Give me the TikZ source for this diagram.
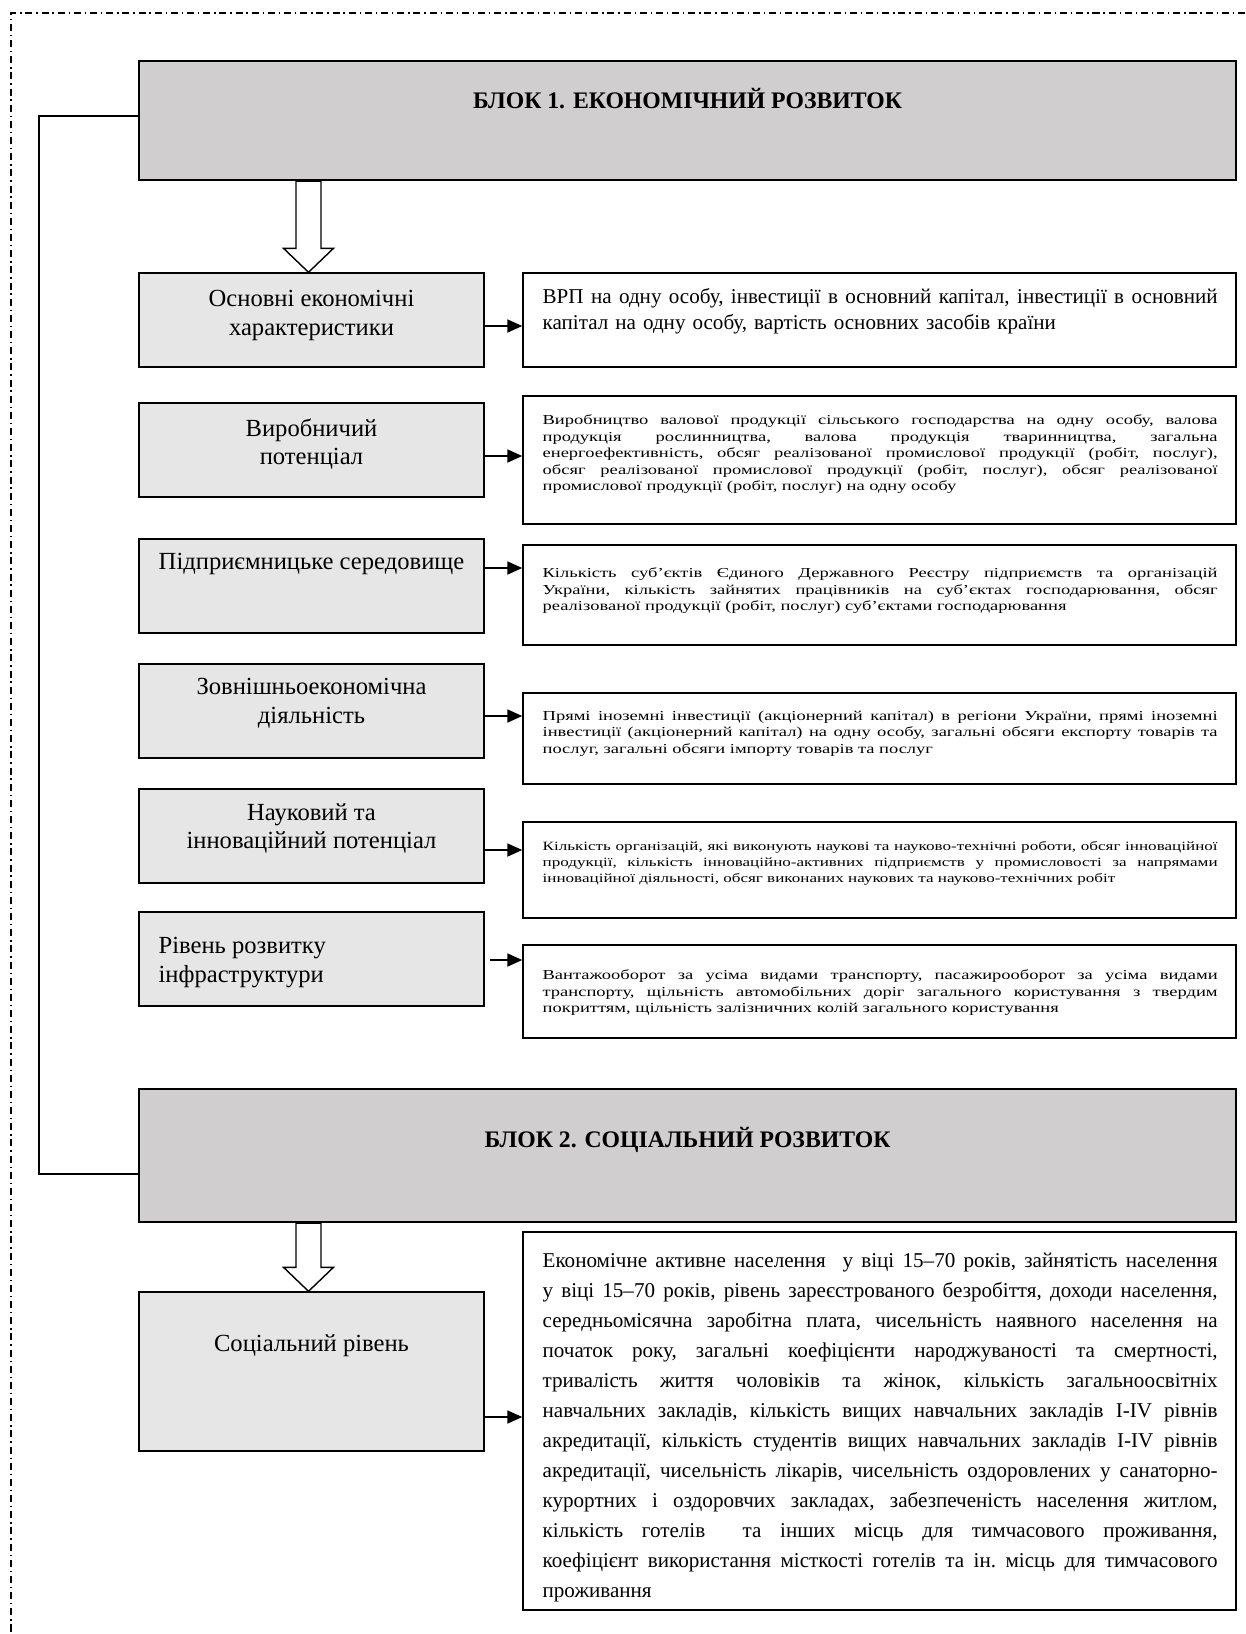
\documentclass[tikz,border=0pt]{standalone}
\usepackage{fontspec}
\setmainfont{Liberation Serif}
\newfontfamily\widefont[FakeStretch=1.35]{Liberation Serif}
\usetikzlibrary{calc,positioning,arrows.meta}
\definecolor{blockgray}{HTML}{D0CECE}
\definecolor{boxgray}{HTML}{E7E6E6}
% one justified line of a right-hand box
\newcommand{\jline}[1]{\makebox[13.5cm][s]{\frenchspacing\spaceskip=\fontdimen2\font plus 1fil\relax#1}}
\tikzset{>={Triangle[length=3mm,width=2.6mm]}}

\begin{document}
\begin{tikzpicture}[x=0.2mm,y=-0.2mm,
  block/.style={draw,line width=1.2pt,fill=blockgray,minimum width=21.94cm,inner sep=0pt},
  lbox/.style={draw,line width=0.8pt,fill=boxgray,minimum width=6.9cm,minimum height=1.88cm,inner sep=0pt},
  rbox/.style={draw,line width=0.8pt,fill=white,minimum width=14.26cm,inner sep=0pt},
  blocktitle/.style={font=\fontsize{13.5}{16}\selectfont\bfseries,inner sep=0pt},
  ltext/.style={font=\fontsize{14}{16}\selectfont,align=center,inner sep=0pt,anchor=north},
  rtext/.style={text width=13.5cm,align=left,inner sep=0pt,anchor=north west},
  small/.style={font=\widefont\fontsize{7.8}{9.45}\selectfont},
  link/.style={->,line width=1pt},
  hollow/.style={draw,line width=0.8pt,fill=white,line join=miter},
  dashframe/.style={line width=0.8pt,dash pattern=on 4pt off 2.2pt on 0.8pt off 2.2pt}]
  \useasboundingbox (0,0) rectangle (1245,1634);
  \draw[dashframe] (1245,13) -- (11,13) -- (11,1634);

  % block 1
  \node[block,minimum height=2.38cm] (b1) at (687.5,120.5) {};
  \node[blocktitle] (b1t) at (687.5,99) {БЛОК 1. ЕКОНОМІЧНИЙ РОЗВИТОК};

  % left column
  \node[lbox] (l1) at (311.5,320) {};
  \node[lbox] (l2) at (311.5,450) {};
  \node[lbox] (l3) at (311.5,586) {};
  \node[lbox] (l4) at (311.5,711) {};
  \node[lbox] (l5) at (311.5,836) {};
  \node[lbox] (l6) at (311.5,959) {};
  \node[ltext] (l1t) at ($(l1.north)+(0,18)$) {Основні економічні\\характеристики};
  \node[ltext] (l2t) at ($(l2.north)+(0,16)$) {Виробничий\\потенціал};
  \node[ltext] (l3t) at ($(l3.north)+(0,15)$) {Підприємницьке середовище};
  \node[ltext] (l4t) at ($(l4.north)+(0,15)$) {Зовнішньоекономічна\\діяльність};
  \node[ltext] (l5t) at ($(l5.north)+(0,15)$) {Науковий та\\інноваційний потенціал};
  \node[ltext,anchor=north west,align=left] (l6t) at ($(l6.north west)+(20,26)$) {Рівень розвитку\\інфраструктури};

  % right column
  \node[rbox,minimum height=1.88cm] (r1) at (879.5,320) {};
  \node[rbox,minimum height=2.56cm] (r2) at (879.5,460) {};
  \node[rbox,minimum height=2.0cm] (r3) at (879.5,595) {};
  \node[rbox,minimum height=1.82cm] (r4) at (879.5,738.5) {};
  \node[rbox,minimum height=1.92cm] (r5) at (879.5,870) {};
  \node[rbox,minimum height=1.86cm] (r6) at (879.5,991.5) {};

  \node[rtext,font=\fontsize{12}{14.5}\selectfont] (r1t) at ($(r1.north west)+(20,16)$)
    {\jline{ВРП на одну особу, інвестиції в основний капітал, інвестиції в основний}\\
     капітал на одну особу, вартість основних засобів країни};
  \node[rtext,small] (r2t) at ($(r2.north west)+(20,19)$)
    {\jline{Виробництво валової продукції сільського господарства на одну особу, валова}\\
     \jline{продукція рослинництва, валова продукція тваринництва, загальна}\\
     \jline{енергоефективність, обсяг реалізованої промислової продукції (робіт, послуг),}\\
     \jline{обсяг реалізованої промислової продукції (робіт, послуг), обсяг реалізованої}\\
     промислової продукції (робіт, послуг) на одну особу};
  \node[rtext,small] (r3t) at ($(r3.north west)+(20,23)$)
    {\jline{Кількість суб’єктів Єдиного Державного Реєстру підприємств та організацій}\\
     \jline{України, кількість зайнятих працівників на суб’єктах господарювання, обсяг}\\
     реалізованої продукції (робіт, послуг) суб’єктами господарювання};
  \node[rtext,small] (r4t) at ($(r4.north west)+(20,18)$)
    {\jline{Прямі іноземні інвестиції (акціонерний капітал) в регіони України, прямі іноземні}\\
     \jline{інвестиції (акціонерний капітал) на одну особу, загальні обсяги експорту товарів та}\\
     послуг, загальні обсяги імпорту товарів та послуг};
  \node[rtext,font=\widefont\fontsize{7.2}{9}\selectfont] (r5t) at ($(r5.north west)+(20,20)$)
    {\jline{Кількість організацій, які виконують наукові та науково-технічні роботи, обсяг інноваційної}\\
     \jline{продукції, кількість інноваційно-активних підприємств у промисловості за напрямами}\\
     інноваційної діяльності, обсяг виконаних наукових та науково-технічних робіт};
  \node[rtext,small] (r6t) at ($(r6.north west)+(20,25)$)
    {\jline{Вантажооборот за усіма видами транспорту, пасажирооборот за усіма видами}\\
     \jline{транспорту, щільність автомобільних доріг загального користування з твердим}\\
     покриттям, щільність залізничних колій загального користування};

  % connectors, block 1
  \coordinate (h1) at ($(l1.north)+(-3,0)$);
  \draw[hollow] (h1) -- ++(-25,-24) -- ++(12.5,0) -- ($(h1 |- b1.south)+(-12.5,0)$)
    -- ++(25,0) -- ($(h1)+(12.5,-24)$) -- ++(12.5,0) -- cycle;
  \draw[link] (l1.east |- 0,326) -- (r1.west |- 0,326);
  \draw[link] (l2.east |- 0,456) -- (r2.west |- 0,456);
  \draw[link] (l3.east |- 0,568) -- (r3.west |- 0,568);
  \draw[link] (l4.east |- 0,716) -- (r4.west |- 0,716);
  \draw[link] ($(l5.east |- 0,850)+(-2,0)$) -- (r5.west |- 0,850);
  \draw[link] ($(l6.east |- 0,960)+(5,0)$) -- (r6.west |- 0,960);

  % block 2
  \node[block,minimum height=2.66cm] (b2) at (687.5,1155.5) {};
  \node[blocktitle] (b2t) at (687.5,1140) {БЛОК 2. СОЦІАЛЬНИЙ РОЗВИТОК};
  \draw[line width=0.8pt] (b1.west |- 0,116) -| (39,1174) -- (b2.west |- 0,1174);

  \node[lbox,minimum height=3.18cm] (ls) at (311.5,1371.5) {};
  \node[ltext] (lst) at ($(ls.north)+(0,43)$) {Соціальний рівень};
  \node[rbox,minimum height=7.56cm] (rs) at (879.5,1421) {};
  \node[rtext,font=\fontsize{12}{17.1}\selectfont] (rst) at ($(rs.north west)+(20,21)$)
    {\jline{Економічне активне населення \ у віці 15–70 років, зайнятість населення}\\
     \jline{у віці 15–70 років, рівень зареєстрованого безробіття, доходи населення,}\\
     \jline{середньомісячна заробітна плата, чисельність наявного населення на}\\
     \jline{початок року, загальні коефіцієнти народжуваності та смертності,}\\
     \jline{тривалість життя чоловіків та жінок, кількість загальноосвітніх}\\
     \jline{навчальних закладів, кількість вищих навчальних закладів I-IV рівнів}\\
     \jline{акредитації, кількість студентів вищих навчальних закладів I-IV рівнів}\\
     \jline{акредитації, чисельність лікарів, чисельність оздоровлених у санаторно-}\\
     \jline{курортних і оздоровчих закладах, забезпеченість населення житлом,}\\
     \jline{кількість готелів \ та інших місць для тимчасового проживання,}\\
     \jline{коефіцієнт використання місткості готелів та ін. місць для тимчасового}\\
     проживання};

  \coordinate (h2) at ($(ls.north)+(-3,0)$);
  \draw[hollow] (h2) -- ++(-25,-24) -- ++(12.5,0) -- ($(h2 |- b2.south)+(-12.5,0)$)
    -- ++(25,0) -- ($(h2)+(12.5,-24)$) -- ++(12.5,0) -- cycle;
  \draw[link] (ls.east |- 0,1417) -- (rs.west |- 0,1417);
\end{tikzpicture}
\end{document}
